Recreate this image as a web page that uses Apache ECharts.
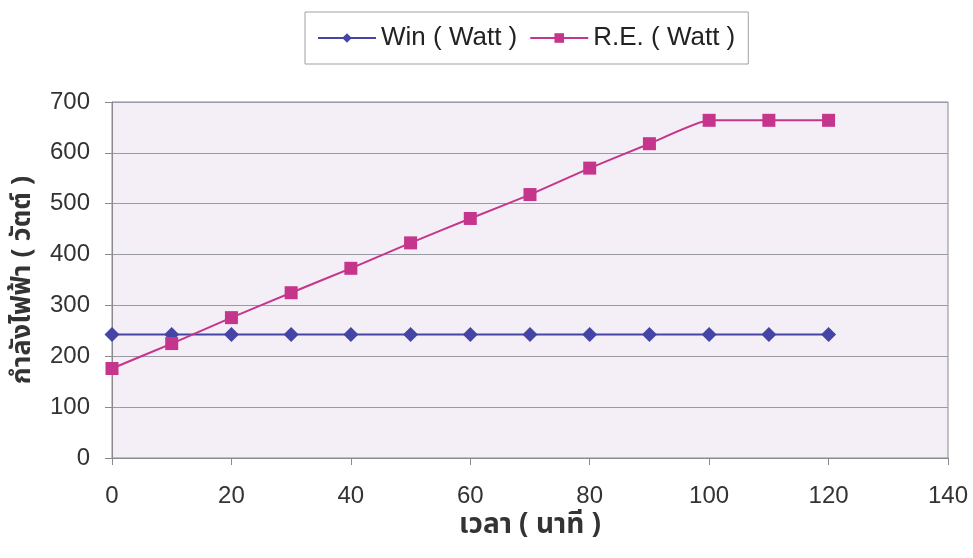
<!DOCTYPE html>
<html>
<head>
<meta charset="utf-8">
<script src="https://cdn.jsdelivr.net/npm/echarts@6/dist/echarts.min.js"></script>
<style>
  html, body { margin: 0; padding: 0; background: #fff; }
  #main { width: 973px; height: 558px; }
</style>
</head>
<body>
<div id="main"></div>
<script>
// time in minutes
var minutes = [0, 10, 20, 30, 40, 50, 60, 70, 80, 90, 100, 110, 120]
// power in watt
var winWatt = [243, 243, 243, 243, 243, 243, 243, 243, 243, 243, 243, 243, 243]
var reWatt  = [176, 225, 276, 325, 373, 423, 471, 518, 570, 618, 664, 664, 664]

var seriesNames = ["Win ( Watt )", "R.E. ( Watt )"]
var font = "Arial, 'Liberation Sans', sans-serif"
var thaiFont = "Tahoma, 'Noto Sans Thai', 'Noto Sans', 'DejaVu Sans', sans-serif"

function pairs(xs, ys){
  var out = []
  for(var i = 0; i < xs.length; i++){
    out.push([xs[i], ys[i]])
  }
  return out
}

var chart = echarts.init(document.getElementById("main"), null, {renderer: "canvas"})
chart.setOption({
  animation: false,
  backgroundColor: "#ffffff",
  legend: {
    top: 12,
    left: 305,
    data: seriesNames,
    itemWidth: 58,
    itemHeight: 12,
    itemGap: 12,
    padding: [13, 13, 13, 12],
    borderColor: "#a0a0a8",
    borderWidth: 1,
    textStyle: { fontFamily: font, fontSize: 26, color: "#222" }
  },
  grid: {
    left: 112, right: 25, top: 102, bottom: 100,
    show: true,
    backgroundColor: "#f4eff6",
    borderColor: "#8a8a8a",
    borderWidth: 1
  },
  xAxis: {
    type: "value",
    min: 0, max: 140, interval: 20,
    name: "เวลา ( นาที )",
    nameLocation: "middle",
    nameGap: 54,
    nameTextStyle: { fontFamily: thaiFont, fontSize: 28, fontWeight: "bold", color: "#333" },
    axisLine: { show: true, lineStyle: { color: "#8a8a8a", width: 1 } },
    axisTick: { show: true, length: 7, lineStyle: { color: "#8a8a8a" } },
    axisLabel: { fontFamily: font, fontSize: 24, color: "#333", margin: 26 },
    splitLine: { show: false }
  },
  yAxis: {
    type: "value",
    min: 0, max: 700, interval: 100,
    name: "กำลังไฟฟ้า ( วัตต์ )",
    nameLocation: "middle",
    nameGap: 74,
    nameRotate: 90,
    nameTextStyle: { fontFamily: thaiFont, fontSize: 27, fontWeight: "bold", color: "#333" },
    axisLine: { show: true, lineStyle: { color: "#8a8a8a", width: 1 } },
    axisTick: { show: true, length: 7, lineStyle: { color: "#8a8a8a" } },
    axisLabel: { fontFamily: font, fontSize: 24, color: "#333", margin: 22 },
    splitLine: { show: true, lineStyle: { color: "#9a9aa4", width: 1 } }
  },
  series: [
    {
      name: seriesNames[0],
      type: "line",
      data: pairs(minutes, winWatt),
      symbol: "diamond",
      symbolSize: 15,
      lineStyle: { color: "#4545a6", width: 2 },
      itemStyle: { color: "#4545a6" }
    },
    {
      name: seriesNames[1],
      type: "line",
      data: pairs(minutes, reWatt),
      smooth: 0.15,
      symbol: "rect",
      symbolSize: 13,
      lineStyle: { color: "#c5358b", width: 2 },
      itemStyle: { color: "#c5358b" }
    }
  ]
})
</script>
</body>
</html>
